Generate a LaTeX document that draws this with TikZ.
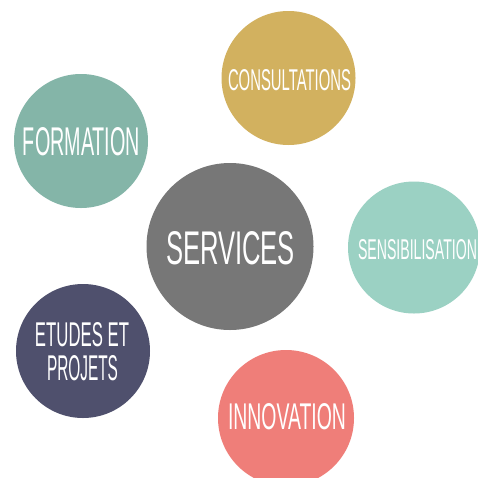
\documentclass[tikz,border=0pt]{standalone}
\usepackage{fontspec}
\setmainfont{Liberation Sans}
\usepackage{graphicx}
\definecolor{cgold}{HTML}{D2B15F}
\definecolor{cform}{HTML}{84B5A8}
\definecolor{cserv}{HTML}{777777}
\definecolor{csens}{HTML}{9BD1C3}
\definecolor{cetud}{HTML}{4F506D}
\definecolor{cinno}{HTML}{EF7E79}
\tikzset{
  bubble/.style={circle, fill=#1, draw=none, inner sep=0pt},
  lbl/.style={text=white, inner sep=0pt, anchor=center},
}
\newcommand{\fitw}[3]{\resizebox{#1pt}{#2pt}{#3}}
\begin{document}
\begin{tikzpicture}[x=1pt,y=-1pt]
\useasboundingbox (0,0) rectangle (478,477);
\clip (0,0) rectangle (478,477);
\fill[white] (0,0) rectangle (478,477);
\node[bubble=cgold, minimum size=134pt] (cons) at (288.5,78) {};
\node[bubble=cform, minimum size=134pt] (form) at (81,141) {};
\node[bubble=cserv, minimum size=167pt] (serv) at (230,246.5) {};
\node[bubble=csens, minimum size=132pt] (sens) at (414,247.5) {};
\node[bubble=cetud, minimum size=134pt] (etud) at (83,351) {};
\node[bubble=cinno, minimum size=136pt] (inno) at (286,418) {};
\node[lbl] (tcons) at (289.5,80.5) {\fitw{123}{21}{CONSULTATIONS}};
\node[lbl] (tform) at (81.5,142) {\fitw{117}{28}{FORMATION}};
\node[lbl] (tserv) at (230.5,248.5) {\fitw{129}{33}{SERVICES}};
\node[lbl] (tsens) at (417.5,250) {\fitw{119}{20}{SENSIBILISATION}};
\node[lbl] (tetu1) at (82,335) {\fitw{94}{24}{ETUDES ET}};
\node[lbl] (tetu2) at (82.5,368.5) {\fitw{71}{25}{PROJETS}};
\node[lbl] (tinno) at (287,417) {\fitw{118}{26}{INNOVATION}};
\end{tikzpicture}
\end{document}
